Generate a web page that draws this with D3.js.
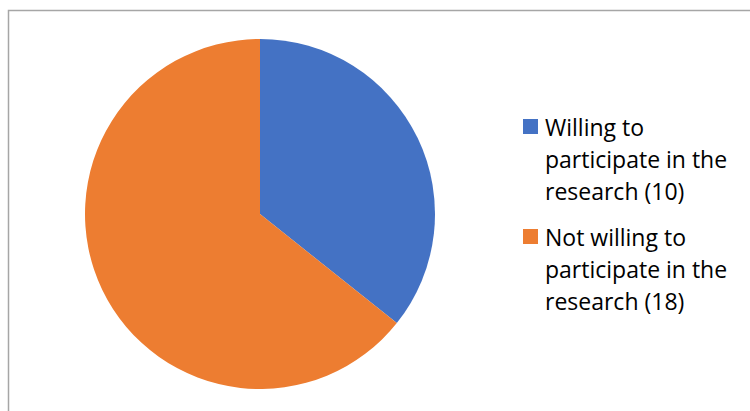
<!DOCTYPE html>
<html>
<head>
<meta charset="utf-8">
<script src="https://cdn.jsdelivr.net/npm/d3@7"></script>
<style>
  body { margin: 0; background: #fff; }
  svg { display: block; }
  .legend-text { font-family: "Open Sans", "Liberation Sans", sans-serif; fill: #000; }
</style>
</head>
<body>
<div id="chart"></div>
<script>
// data
var categories = ['Willing to participate in the research (10)', 'Not willing to participate in the research (18)'];
var legendLines = [
  ['Willing to', 'participate in the', 'research (10)'],
  ['Not willing to', 'participate in the', 'research (18)']
];
var counts = [10, 18];
var colors = ['#4472c4', '#ed7d31'];

var width = 750, height = 411;

var svg = d3.select('#chart').append('svg')
  .attr('width', width)
  .attr('height', height);

// chart area frame (only top + left are visible in the crop)
svg.append('rect')
  .attr('x', 8.5)
  .attr('y', 10.5)
  .attr('width', 760)
  .attr('height', 420)
  .attr('fill', 'none')
  .attr('stroke', '#a6a6a6')
  .attr('stroke-width', 1.5);

//pie
var cx = 260, cy = 214, radius = 175;

var pie = d3.pie().sort(null).value(function(d) { return d; });
var arc = d3.arc().innerRadius(0).outerRadius(radius);

var g = svg.append('g').attr('transform', 'translate(' + cx + ',' + cy + ')');
g.selectAll('path')
  .data(pie(counts))
  .enter().append('path')
  .attr('d', arc)
  .attr('fill', function(d, i) { return colors[i]; });

//legend
var legendX = 523, legendY = 119, lineH = 32, entryGap = 110;
var legend = svg.append('g');
categories.forEach(function(c, i) {
  var y0 = legendY + i * entryGap;
  legend.append('rect')
    .attr('x', legendX)
    .attr('y', y0)
    .attr('width', 15)
    .attr('height', 15)
    .attr('fill', colors[i]);
  var t = legend.append('text')
    .attr('class', 'legend-text')
    .attr('x', legendX + 22)
    .attr('y', y0 + 17)
    .style('font-size', '23px');
  legendLines[i].forEach(function(line, j) {
    t.append('tspan')
      .attr('x', legendX + 22)
      .attr('dy', j === 0 ? 0 : lineH)
      .text(line);
  });
});
</script>
</body>
</html>
